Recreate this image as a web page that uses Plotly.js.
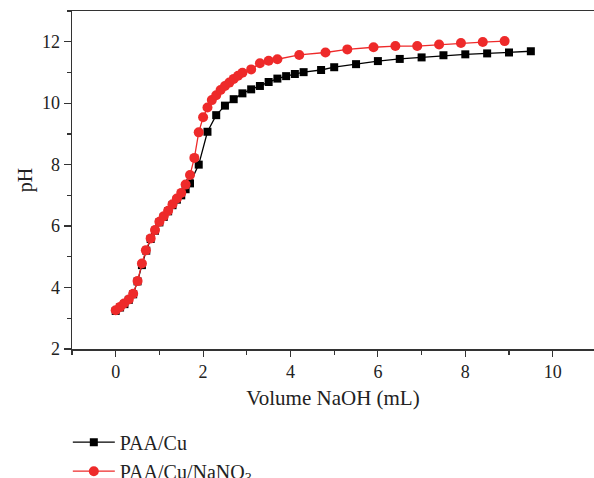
<!DOCTYPE html>
<html>
<head>
<meta charset="utf-8">
<script src="https://cdn.plot.ly/plotly-3.0.1.min.js"></script>
<style>html,body{margin:0;padding:0;background:#fff;}</style>
</head>
<body>
<div id="chart" style="width:594px;height:478px;"></div>
<script>
// PAA/Cu (black squares)
const paaCuX = [0,0.1,0.2,0.3,0.4,0.5,0.6,0.7,0.8,0.9,1.0,1.1,1.2,1.3,1.4,1.5,1.6,1.7,1.9,2.1,2.3,2.5,2.7,2.9,3.1,3.3,3.5,3.7,3.9,4.1,4.3,4.7,5.0,5.5,6.0,6.5,7.0,7.5,8.0,8.5,9.0,9.5];
const paaCuY = [3.24,3.35,3.46,3.6,3.78,4.2,4.73,5.2,5.58,5.85,6.12,6.3,6.48,6.68,6.86,7.0,7.2,7.39,8.0,9.07,9.61,9.92,10.13,10.32,10.45,10.56,10.69,10.8,10.88,10.95,11.01,11.08,11.17,11.27,11.37,11.44,11.49,11.56,11.59,11.62,11.65,11.69];
// PAA/Cu/NaNO3 (red circles)
const paaCuNaX = [0,0.1,0.19,0.3,0.4,0.5,0.6,0.69,0.8,0.9,1.0,1.1,1.2,1.3,1.4,1.5,1.6,1.7,1.8,1.9,2.0,2.1,2.2,2.3,2.4,2.5,2.6,2.7,2.8,2.9,3.1,3.3,3.5,3.7,4.2,4.8,5.3,5.9,6.4,6.9,7.4,7.9,8.4,8.9];
const paaCuNaY = [3.26,3.37,3.48,3.61,3.8,4.21,4.78,5.21,5.6,5.87,6.14,6.32,6.5,6.71,6.9,7.08,7.35,7.66,8.22,9.05,9.54,9.86,10.1,10.26,10.43,10.56,10.67,10.79,10.89,10.99,11.1,11.3,11.38,11.43,11.57,11.65,11.75,11.82,11.86,11.86,11.91,11.96,11.99,12.02];

const seriesNames = ['PAA/Cu', 'PAA/Cu/NaNO<sub>3</sub>'];
const xTicks = [0,2,4,6,8,10];
const xMinorTicks = [-1,1,3,5,7,9,11];
const yTicks = [2,4,6,8,10,12];
const yMinorTicks = [3,5,7,9,11,13];

const font = 'Liberation Serif, Times New Roman, serif';

const traces = [
  {
    x: paaCuX, y: paaCuY, name: seriesNames[0], type: 'scatter', mode: 'lines+markers',
    line: {color: '#000000', width: 1.3},
    marker: {symbol: 'square', size: 8, color: '#000000'}
  },
  {
    x: paaCuNaX, y: paaCuNaY, name: seriesNames[1], type: 'scatter', mode: 'lines+markers',
    line: {color: '#ee2a2a', width: 1.3},
    marker: {symbol: 'circle', size: 10, color: '#ee2a2a'}
  }
];

const layout = {
  width: 594, height: 478,
  margin: {l: 72, r: 0, t: 11, b: 129, autoexpand: false},
  paper_bgcolor: '#ffffff', plot_bgcolor: '#ffffff',
  font: {family: font, size: 18, color: '#222'},
  showlegend: true,
  legend: {
    x: -0.008, xanchor: 'left', y: -0.218, yanchor: 'top',
    font: {family: font, size: 20, color: '#222'},
    tracegroupgap: 0, itemwidth: 42, bgcolor: 'rgba(0,0,0,0)'
  },
  xaxis: {
    range: [-1.0, 10.945],
    tickvals: xTicks,
    ticks: 'outside', ticklen: 6, tickwidth: 1.2, tickcolor: '#333',
    minor: {tickvals: xMinorTicks, ticks: 'outside', ticklen: 4, tickwidth: 1.2, tickcolor: '#333'},
    showline: true, linecolor: '#333', linewidth: 1.5, mirror: true,
    showgrid: false, zeroline: false,
    tickfont: {family: font, size: 18, color: '#222'},
    title: {text: 'Volume NaOH (mL)', font: {family: font, size: 21, color: '#222'}, standoff: 9}
  },
  yaxis: {
    range: [2, 13],
    tickvals: yTicks,
    ticks: 'outside', ticklen: 7, tickwidth: 1.2, tickcolor: '#333',
    minor: {tickvals: yMinorTicks, ticks: 'outside', ticklen: 4, tickwidth: 1.2, tickcolor: '#333'},
    showline: true, linecolor: '#333', linewidth: 1.5, mirror: false,
    showgrid: false, zeroline: false,
    tickfont: {family: font, size: 18, color: '#222'},
    title: {text: 'pH', font: {family: font, size: 20, color: '#222'}, standoff: 4}
  }
};

Plotly.newPlot('chart', traces, layout, {displayModeBar: false, staticPlot: true});
</script>
</body>
</html>
